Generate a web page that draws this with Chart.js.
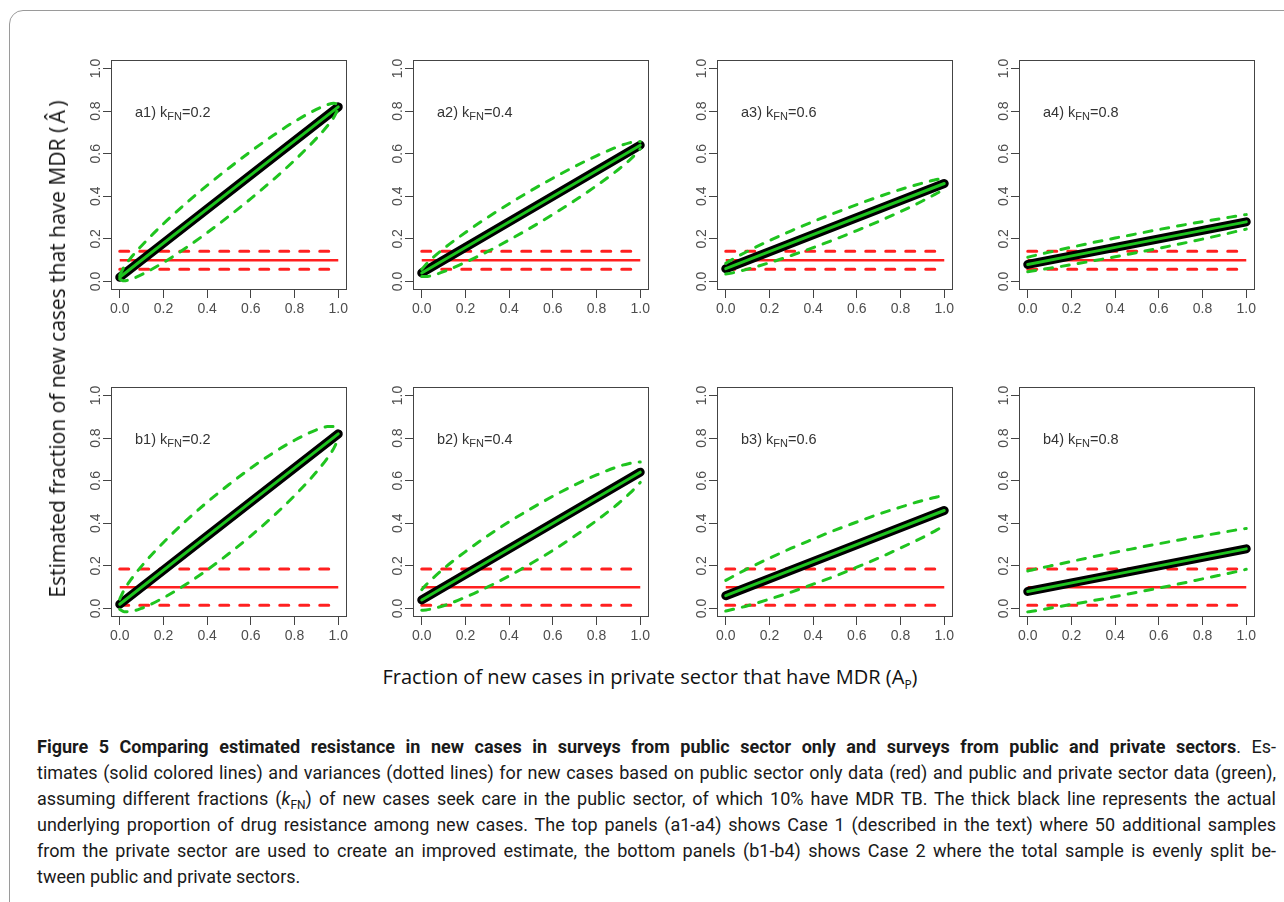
<!DOCTYPE html>
<html>
<head>
<meta charset="utf-8">
<script src="https://cdn.jsdelivr.net/npm/chart.js@4.4.1/dist/chart.umd.min.js"></script>
<style>
  html, body { margin: 0; padding: 0; background: #fff; }
  body { width: 1284px; height: 902px; position: relative; overflow: hidden; }
  .frame { position: absolute; left: 9px; top: 10px; width: 1320px; height: 930px;
           border: 1px solid #9a9a9a; border-radius: 14px; }
  canvas.panel { position: absolute; }
  .ytitle { position: absolute; left: 57px; top: 349px; white-space: nowrap;
            transform: translate(-50%, -50%) rotate(-90deg);
            font: 21px 'Open Sans', 'Noto Sans', sans-serif; color: #111; }
  .xtitle { position: absolute; left: 650px; top: 676px; white-space: nowrap;
            transform: translate(-50%, -50%);
            font: 20px 'Open Sans', 'Noto Sans', sans-serif; color: #111; }
  .xtitle sub { font-size: 12px; vertical-align: -5px; line-height: 0; }
  .caption { position: absolute; left: 37px; top: 734px; width: 1239px;
             font: 18px Roboto, sans-serif; line-height: 26px; color: #1a1a1a; }
  .caption .ln { white-space: nowrap; height: 26px; }
  .caption .ln span { display: inline-block; }
  .caption sub { font-size: 12px; vertical-align: -4px; line-height: 0; }
</style>
</head>
<body>
<div class="frame"></div>
<div id="panels"></div>
<div class="ytitle">Estimated fraction of new cases that have MDR (&thinsp;Â&thinsp;)</div>
<div class="xtitle">Fraction of new cases in private sector that have MDR (A<sub>P</sub>)</div>
<div class="caption">
  <div class="ln"><span><b>Figure 5 Comparing estimated resistance in new cases in surveys from public sector only and surveys from public and private sectors</b>. Es-</span></div>
  <div class="ln"><span>timates (solid colored lines) and variances (dotted lines) for new cases based on public sector only data (red) and public and private sector data (green),</span></div>
  <div class="ln"><span>assuming different fractions (<i>k</i><sub>FN</sub>) of new cases seek care in the public sector, of which 10% have MDR TB. The thick black line represents the actual</span></div>
  <div class="ln"><span>underlying proportion of drug resistance among new cases. The top panels (a1-a4) shows Case 1 (described in the text) where 50 additional samples</span></div>
  <div class="ln"><span>from the private sector are used to create an improved estimate, the bottom panels (b1-b4) shows Case 2 where the total sample is evenly split be-</span></div>
  <div class="ln"><span>tween public and private sectors.</span></div>
</div>
<script>
// x values (A_P) where the variance bands were read
const apGrid = [0, 0.02, 0.05, 0.1, 0.2, 0.3, 0.4, 0.5, 0.6, 0.7, 0.8, 0.9, 0.95, 0.98, 1];
const kFN = [0.2, 0.4, 0.6, 0.8];
const tickValues = [0, 0.2, 0.4, 0.6, 0.8, 1.0];

// thick black line (actual proportion), same in both rows; green estimate sits on it
const actualAtZero = [0.02, 0.04, 0.06, 0.08];
const actualAtOne = [0.82, 0.64, 0.46, 0.28];

// red: public sector only estimate and its band
const publicEstimate = 0.1;
const publicBandCase1 = [0.058, 0.142];
const publicBandCase2 = [0.015, 0.185];

// green dashed bands, case 1 (a1-a4)
const upperCase1 = [
  [0.029, 0.069, 0.110, 0.168, 0.271, 0.364, 0.451, 0.533, 0.611, 0.684, 0.751, 0.808, 0.830, 0.837, 0.829],
  [0.057, 0.081, 0.111, 0.154, 0.230, 0.300, 0.365, 0.427, 0.485, 0.540, 0.590, 0.634, 0.651, 0.657, 0.657],
  [0.085, 0.098, 0.115, 0.142, 0.192, 0.238, 0.281, 0.322, 0.361, 0.398, 0.432, 0.462, 0.475, 0.482, 0.485],
  [0.114, 0.119, 0.126, 0.138, 0.161, 0.183, 0.204, 0.224, 0.244, 0.263, 0.281, 0.298, 0.306, 0.311, 0.314]
];
const lowerCase1 = [
  [0.011, 0.003, 0.010, 0.032, 0.089, 0.156, 0.229, 0.307, 0.389, 0.476, 0.569, 0.672, 0.730, 0.771, 0.811],
  [0.023, 0.023, 0.029, 0.046, 0.090, 0.140, 0.195, 0.253, 0.315, 0.380, 0.450, 0.526, 0.569, 0.599, 0.623],
  [0.035, 0.038, 0.045, 0.058, 0.088, 0.122, 0.159, 0.198, 0.239, 0.282, 0.328, 0.378, 0.405, 0.422, 0.435],
  [0.046, 0.049, 0.054, 0.062, 0.079, 0.097, 0.116, 0.136, 0.156, 0.177, 0.199, 0.222, 0.234, 0.241, 0.246]
];

// green dashed bands, case 2 (b1-b4)
const upperCase2 = [
  [0.044, 0.087, 0.134, 0.199, 0.310, 0.409, 0.499, 0.582, 0.659, 0.729, 0.790, 0.839, 0.854, 0.855, 0.844],
  [0.088, 0.111, 0.141, 0.187, 0.267, 0.340, 0.407, 0.469, 0.527, 0.580, 0.627, 0.667, 0.681, 0.687, 0.688],
  [0.132, 0.143, 0.160, 0.187, 0.236, 0.283, 0.326, 0.368, 0.406, 0.443, 0.476, 0.507, 0.520, 0.527, 0.532],
  [0.176, 0.181, 0.188, 0.199, 0.221, 0.243, 0.264, 0.284, 0.304, 0.323, 0.341, 0.359, 0.368, 0.373, 0.376]
];
const lowerCase2 = [
  [-0.004, -0.015, -0.014, 0.001, 0.050, 0.111, 0.181, 0.258, 0.341, 0.431, 0.530, 0.641, 0.706, 0.753, 0.796],
  [-0.008, -0.007, -0.001, 0.013, 0.053, 0.100, 0.153, 0.211, 0.273, 0.340, 0.413, 0.493, 0.539, 0.569, 0.592],
  [-0.012, -0.007, 0.000, 0.013, 0.044, 0.077, 0.114, 0.152, 0.194, 0.237, 0.284, 0.333, 0.360, 0.377, 0.388],
  [-0.016, -0.013, -0.008, 0.001, 0.019, 0.037, 0.056, 0.076, 0.096, 0.117, 0.139, 0.161, 0.172, 0.179, 0.184]
];

const GREEN = '#1fc41f';
const RED = '#ff2020';
const AXIS = '#444';
const TICK_TEXT = '#4d4d4d';

Chart.defaults.font.family = "'Liberation Sans', Arial, sans-serif";
Chart.defaults.animation = false;

const boxLeft = [111, 413, 717, 1019];
const boxTop = [60, 387];
const BOX_W = 236, BOX_H = 230, PAD_L = 50, PAD_T = 10, PAD_R = 8, PAD_B = 32;

const pts = (xs, ys) => xs.map((x, i) => ({ x, y: ys[i] }));
const flat = y => [{ x: 0, y }, { x: 1, y }];

// box round the plot + the "a1) kFN=0.2" tag
const panelDeco = {
  id: 'panelDeco',
  beforeDatasetsDraw(chart) {
    const { ctx, chartArea: a } = chart;
    ctx.save();
    ctx.strokeStyle = AXIS;
    ctx.lineWidth = 1;
    ctx.strokeRect(Math.round(a.left) + 0.5, Math.round(a.top) + 0.5,
                   Math.round(a.width) - 1, Math.round(a.height) - 1);
    ctx.restore();
  },
  afterDraw(chart, args, opts) {
    const { ctx, scales } = chart;
    let x = scales.x.getPixelForValue(0.07);
    const y = scales.y.getPixelForValue(0.79);
    ctx.save();
    ctx.fillStyle = '#333';
    ctx.textBaseline = 'middle';
    ctx.font = "14.5px 'Liberation Sans', Arial, sans-serif";
    const head = opts.tag + ') k';
    ctx.fillText(head, x, y);
    x += ctx.measureText(head).width;
    ctx.font = "11px 'Liberation Sans', Arial, sans-serif";
    ctx.fillText('FN', x, y + 4);
    x += ctx.measureText('FN').width;
    ctx.font = "14.5px 'Liberation Sans', Arial, sans-serif";
    ctx.fillText('=' + opts.k.toFixed(1), x, y);
    ctx.restore();
  }
};

function axisOpts(vertical) {
  return {
    type: 'linear',
    min: -0.04,
    max: 1.04,
    afterBuildTicks: s => { s.ticks = tickValues.map(v => ({ value: v })); },
    afterFit: s => { if (vertical) s.width = PAD_L; else s.height = PAD_B; },
    grid: { drawOnChartArea: false, drawTicks: true, tickLength: 8, color: AXIS },
    border: { display: false },
    ticks: vertical
      ? { callback: v => Number(v).toFixed(1), color: TICK_TEXT, font: { size: 14 },
          minRotation: 90, maxRotation: 90, crossAlign: 'center', padding: -3, autoSkip: false }
      : { callback: v => Number(v).toFixed(1), color: TICK_TEXT, font: { size: 14 },
          maxRotation: 0, padding: 3, autoSkip: false }
  };
}

function makePanel(row, col) {
  const canvas = document.createElement('canvas');
  canvas.className = 'panel';
  canvas.width = PAD_L + BOX_W + PAD_R;
  canvas.height = PAD_T + BOX_H + PAD_B;
  canvas.style.left = (boxLeft[col] - PAD_L) + 'px';
  canvas.style.top = (boxTop[row] - PAD_T) + 'px';
  document.getElementById('panels').appendChild(canvas);

  const up = row === 0 ? upperCase1[col] : upperCase2[col];
  const lo = row === 0 ? lowerCase1[col] : lowerCase2[col];
  const band = row === 0 ? publicBandCase1 : publicBandCase2;
  const actual = [{ x: 0, y: actualAtZero[col] }, { x: 1, y: actualAtOne[col] }];

  new Chart(canvas.getContext('2d'), {
    type: 'line',
    data: {
      datasets: [
        { data: pts(apGrid, up), borderColor: GREEN, borderWidth: 3, borderDash: [8, 9], borderCapStyle: 'round', order: 0 },
        { data: pts(apGrid, lo), borderColor: GREEN, borderWidth: 3, borderDash: [8, 9], borderCapStyle: 'round', order: 0 },
        { data: actual, borderColor: GREEN, borderWidth: 3, borderCapStyle: 'round', order: 1 },
        { data: actual, borderColor: '#000', borderWidth: 9, borderCapStyle: 'round', order: 2 },
        { data: flat(publicEstimate), borderColor: RED, borderWidth: 2.5, order: 3 },
        { data: flat(band[0]), borderColor: RED, borderWidth: 3, borderDash: [9, 11], borderCapStyle: 'round', order: 3 },
        { data: flat(band[1]), borderColor: RED, borderWidth: 3, borderDash: [9, 11], borderCapStyle: 'round', order: 3 }
      ]
    },
    options: {
      responsive: false,
      animation: false,
      events: [],
      elements: { point: { radius: 0 }, line: { cubicInterpolationMode: 'monotone', fill: false } },
      layout: { padding: { left: 0, top: PAD_T, right: PAD_R, bottom: 0 } },
      plugins: {
        legend: { display: false },
        tooltip: { enabled: false },
        panelDeco: { tag: 'ab'[row] + (col + 1), k: kFN[col] }
      },
      scales: { x: axisOpts(false), y: axisOpts(true) }
    },
    plugins: [panelDeco]
  });
}

for (let r = 0; r < 2; r++) for (let c = 0; c < 4; c++) makePanel(r, c);

// justify caption lines like the printed figure
function justifyCaption() {
  const lines = document.querySelectorAll('.caption .ln span');
  lines.forEach((s, i) => {
    if (i === lines.length - 1) return;
    const gaps = s.textContent.trim().split(/\s+/).length - 1;
    s.style.wordSpacing = '0px';
    const extra = (1239 - s.getBoundingClientRect().width) / gaps;
    s.style.wordSpacing = extra + 'px';
  });
}
justifyCaption();
document.fonts.ready.then(justifyCaption);
</script>
</body>
</html>
